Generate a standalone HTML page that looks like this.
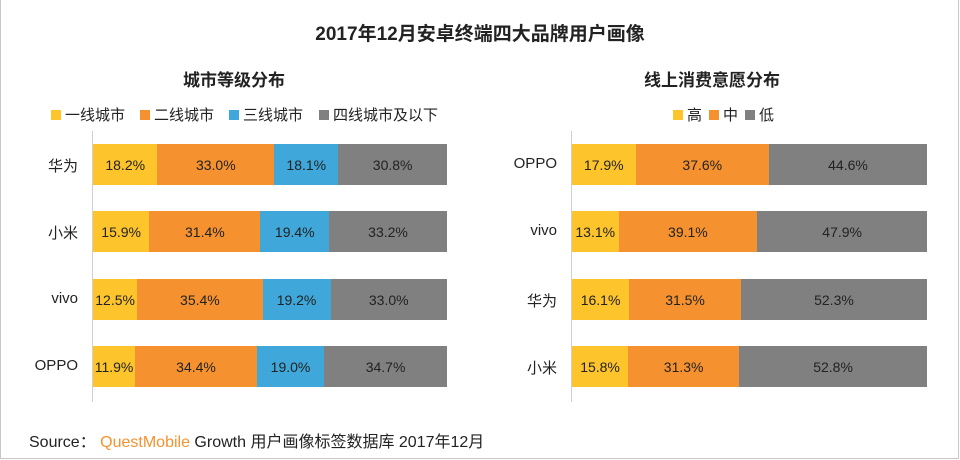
<!DOCTYPE html>
<html><head><meta charset="utf-8"><style>
*{margin:0;padding:0;box-sizing:border-box}
body{width:960px;height:460px;background:#fff;position:relative;overflow:hidden;font-family:"Liberation Sans","Noto Sans CJK SC",sans-serif;color:#222}
.frame{position:absolute;left:0;top:0;width:959px;height:459px;border:1px solid #c8c8c8;border-top:none}
.t{position:absolute;white-space:nowrap}
.bar{position:absolute;height:41px;display:flex}
.bar div{height:100%;display:flex;align-items:center;justify-content:center;font-size:14px;color:#222}
.y{background:#fdc42b}.o{background:#f5922f}.b{background:#3fa7d9}.g{background:#808080}
.axis{position:absolute;width:1px;background:#d0d0d0}
.lab{position:absolute;font-size:15px;text-align:right;width:60px}
.lg{position:absolute;font-size:15px;display:flex;align-items:center;white-space:nowrap}
.lg i{display:inline-block;width:10px;height:10px;margin-right:4px}
</style></head><body>
<div class="frame"></div>
<div class="t" style="left:0;width:960px;text-align:center;top:19px;font-size:19px;font-weight:bold">2017年12月安卓终端四大品牌用户画像</div>
<div class="t" style="left:183px;top:66px;font-size:17px;font-weight:bold">城市等级分布</div>
<div class="t" style="left:644px;top:66px;font-size:17px;font-weight:bold">线上消费意愿分布</div>

<div class="lg" style="left:51px;top:104px"><i class="y"></i>一线城市</div>
<div class="lg" style="left:140px;top:104px"><i class="o"></i>二线城市</div>
<div class="lg" style="left:229px;top:104px"><i class="b"></i>三线城市</div>
<div class="lg" style="left:319px;top:104px"><i class="g"></i>四线城市及以下</div>

<div class="lg" style="left:673px;top:104px"><i class="y"></i>高</div>
<div class="lg" style="left:709px;top:104px"><i class="o"></i>中</div>
<div class="lg" style="left:745px;top:104px"><i class="g"></i>低</div>

<div class="axis" style="left:92px;top:131px;height:271px"></div>
<div class="axis" style="left:571px;top:131px;height:271px"></div>

<div class="lab" style="left:18px;top:155px">华为</div>
<div class="lab" style="left:18px;top:222px">小米</div>
<div class="lab" style="left:18px;top:290px">vivo</div>
<div class="lab" style="left:18px;top:357px">OPPO</div>

<div class="bar" style="left:93px;top:144px;width:354px"><div class="y" style="width:18.2%">18.2%</div><div class="o" style="width:33.0%">33.0%</div><div class="b" style="width:18.1%">18.1%</div><div class="g" style="width:30.7%">30.8%</div></div>
<div class="bar" style="left:93px;top:211px;width:354px"><div class="y" style="width:15.9%">15.9%</div><div class="o" style="width:31.4%">31.4%</div><div class="b" style="width:19.4%">19.4%</div><div class="g" style="width:33.3%">33.2%</div></div>
<div class="bar" style="left:93px;top:279px;width:354px"><div class="y" style="width:12.5%">12.5%</div><div class="o" style="width:35.4%">35.4%</div><div class="b" style="width:19.2%">19.2%</div><div class="g" style="width:32.9%">33.0%</div></div>
<div class="bar" style="left:93px;top:346px;width:354px"><div class="y" style="width:11.9%">11.9%</div><div class="o" style="width:34.4%">34.4%</div><div class="b" style="width:19.0%">19.0%</div><div class="g" style="width:34.7%">34.7%</div></div>

<div class="lab" style="left:497px;top:155px">OPPO</div>
<div class="lab" style="left:497px;top:222px">vivo</div>
<div class="lab" style="left:497px;top:290px">华为</div>
<div class="lab" style="left:497px;top:357px">小米</div>

<div class="bar" style="left:572px;top:144px;width:355px"><div class="y" style="width:17.9%">17.9%</div><div class="o" style="width:37.6%">37.6%</div><div class="g" style="width:44.5%">44.6%</div></div>
<div class="bar" style="left:572px;top:211px;width:355px"><div class="y" style="width:13.1%">13.1%</div><div class="o" style="width:39.1%">39.1%</div><div class="g" style="width:47.8%">47.9%</div></div>
<div class="bar" style="left:572px;top:279px;width:355px"><div class="y" style="width:16.1%">16.1%</div><div class="o" style="width:31.5%">31.5%</div><div class="g" style="width:52.4%">52.3%</div></div>
<div class="bar" style="left:572px;top:346px;width:355px"><div class="y" style="width:15.8%">15.8%</div><div class="o" style="width:31.3%">31.3%</div><div class="g" style="width:52.9%">52.8%</div></div>

<div class="t" style="left:29px;top:428px;font-size:16px">Source：&nbsp;<span style="color:#f5922f">QuestMobile</span> Growth 用户画像标签数据库 2017年12月</div>
</body></html>
